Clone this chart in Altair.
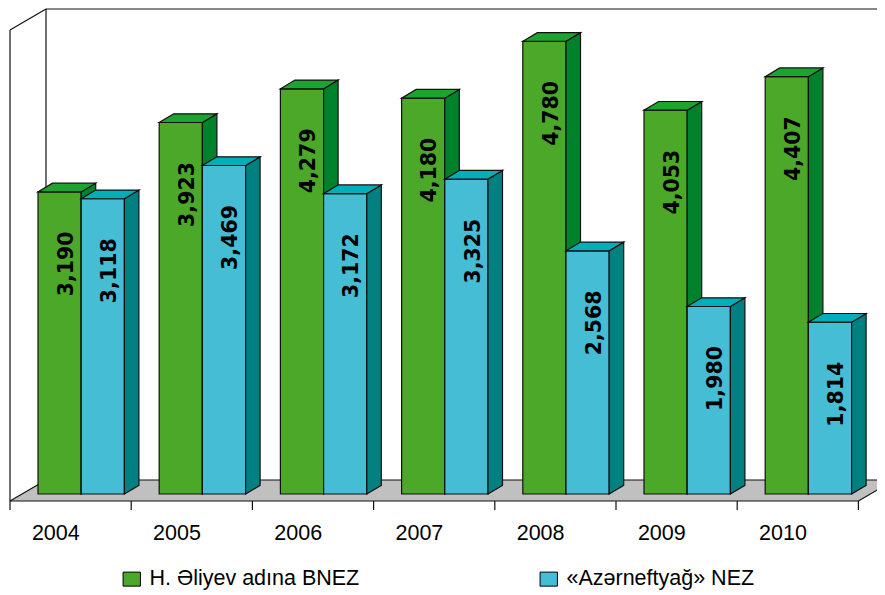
import altair as alt
import pandas as pd

# ---------------- data ----------------
years = ["2004", "2005", "2006", "2007", "2008", "2009", "2010"]
series = ["H. Əliyev adına BNEZ", "«Azərneftyağ» NEZ"]
bnez = [3190, 3923, 4279, 4180, 4780, 4053, 4407]
azneft = [3118, 3469, 3172, 3325, 2568, 1980, 1814]

# ---------------- style ----------------
front_colors = ["#4BA829", "#45BDD5"]
top_colors = ["#1CA332", "#00AFB8"]
side_colors = ["#00822D", "#008080"]
floor_color = "#C0C0C0"
edge = "#111111"

# ---------------- layout (pixels) ----------------
W, H = 869, 585
SLOT = 121.2          # px per category slot
PXY = 0.0947          # px per value unit
X0_PX = 2             # chart-x of first slot edge
Y0_PX = 486           # chart-y of zero baseline
BAR_OFF = 28.0        # px from slot edge to first bar
BAR_W = 43.2          # px bar width
DX, DY = 14.5, 8.7    # bar depth
FDX, FDY = 36.0, 21.0 # floor / wall depth
FLOOR_DROP = 7.0      # front floor edge below bar baseline
TICK_LEN = 9.0
LABEL_DROP = 72.0     # value label centre below bar top
YEAR_SHIFT = -14.8
YEAR_BASE = 46.0      # year label baseline below bar baseline
WALL_TOP = 1.0        # chart-y of back wall top

ux = lambda px: px / SLOT
uy = lambda px: px / PXY

x_dom = [-X0_PX / SLOT, (W - X0_PX) / SLOT]
y_dom = [-(H - Y0_PX) / PXY, Y0_PX / PXY]
xs = alt.Scale(domain=x_dom, nice=False, zero=False)
ys = alt.Scale(domain=y_dom, nice=False, zero=False)
X = lambda f: alt.X(f, type="quantitative", scale=xs, axis=None)
Y = lambda f: alt.Y(f, type="quantitative", scale=ys, axis=None)

n = len(years)
values = [bnez, azneft]

front, side, top, labels = [], [], [], []
for i, yr in enumerate(years):
    for s, name in enumerate(series):
        v = values[s][i]
        x0 = i + ux(BAR_OFF + s * BAR_W)
        x1 = x0 + ux(BAR_W)
        bid = f"{yr}-{s}"
        front.append(dict(series=name, s=s, x0=x0, x1=x1, y0=0, y1=v))
        side += [
            dict(bid=bid, s=s, x=x1, ya=0, yb=v),
            dict(bid=bid, s=s, x=x1 + ux(DX), ya=uy(DY), yb=v + uy(DY)),
        ]
        top += [
            dict(bid=bid, s=s, x=x0, ya=v, yb=v),
            dict(bid=bid, s=s, x=x0 + ux(DX), ya=v, yb=v + uy(DY)),
            dict(bid=bid, s=s, x=x1, ya=v, yb=v + uy(DY)),
            dict(bid=bid, s=s, x=x1 + ux(DX), ya=v + uy(DY), yb=v + uy(DY)),
        ]
        labels.append(dict(s=s, x=x0 + ux((BAR_W + DX) / 2), y=v - uy(LABEL_DROP),
                           txt=f"{v:,}"))

front_df = pd.DataFrame(front)
side_df = pd.DataFrame(side)
top_df = pd.DataFrame(top)
label_df = pd.DataFrame(labels)

ffy = -uy(FLOOR_DROP)
fby = ffy + uy(FDY)
wall_top = y_dom[1] - uy(WALL_TOP)
left_top = wall_top - uy(FDY)
fx = ux(FDX)

floor_df = pd.DataFrame([
    dict(x=0, ya=ffy, yb=ffy),
    dict(x=fx, ya=ffy, yb=fby),
    dict(x=n, ya=ffy, yb=fby),
    dict(x=n + fx, ya=fby, yb=fby),
])

segs = [
    (0, ffy, 0, left_top),
    (0, left_top, fx, wall_top),
    (fx, fby, fx, wall_top),
    (fx, wall_top, x_dom[1] + 1, wall_top),
    (0, ffy, n, ffy),
    (fx, fby, n + fx, fby),
    (0, ffy, fx, fby),
    (n, ffy, n + fx, fby),
]
segs += [(i, ffy, i, ffy - uy(TICK_LEN)) for i in range(n + 1)]
seg_df = pd.DataFrame(segs, columns=["x", "y", "x2", "y2"])

year_df = pd.DataFrame(dict(
    year=years,
    x=[i + 0.5 + ux(YEAR_SHIFT) for i in range(n)],
    y=[-uy(YEAR_BASE)] * n,
))

# ---------------- layers ----------------
floor = alt.Chart(floor_df).mark_area(color=floor_color).encode(
    x=X("x"), y=Y("ya"), y2="yb")

frame = alt.Chart(seg_df).mark_rule(color=edge, strokeWidth=1.2).encode(
    x=X("x"), y=Y("y"), x2="x2", y2="y2")

color = alt.Color(
    "series:N",
    scale=alt.Scale(domain=series, range=front_colors),
    legend=alt.Legend(
        title=None, orient="none", legendX=113, legendY=560,
        direction="horizontal", columns=2, columnPadding=178,
        symbolType="M-1,-0.81H1V0.81H-1Z", symbolSize=300,
        symbolStrokeColor="#000000", symbolStrokeWidth=1,
        labelFont="Liberation Sans", labelFontSize=21.5, labelColor="#000000",
        labelOffset=7, labelLimit=400, padding=0,
    ),
)

bar_layers = []
for s in range(2):
    f = alt.Chart(front_df).transform_filter(f"datum.s == {s}").mark_rect(
        stroke=edge, strokeWidth=1.2).encode(
        x=X("x0"), x2="x1", y=Y("y0"), y2="y1", color=color)
    sd = alt.Chart(side_df).transform_filter(f"datum.s == {s}").mark_area(
        color=side_colors[s], stroke=edge, strokeWidth=1.2).encode(
        x=X("x"), y=Y("ya"), y2="yb", detail="bid:N")
    tp = alt.Chart(top_df).transform_filter(f"datum.s == {s}").mark_area(
        color=top_colors[s], stroke=edge, strokeWidth=1.2).encode(
        x=X("x"), y=Y("ya"), y2="yb", detail="bid:N")
    bar_layers += [f, sd, tp]

vlabels = alt.Chart(label_df).mark_text(
    angle=270, align="center", baseline="middle", font="DejaVu Sans",
    fontWeight="bold", fontSize=20.5, color="#000000").encode(
    x=X("x"), y=Y("y"), text="txt:N")

ylabels = alt.Chart(year_df).mark_text(
    align="center", baseline="alphabetic", font="Liberation Sans",
    fontSize=21.5, color="#000000").encode(
    x=X("x"), y=Y("y"), text="year:N")

chart = alt.layer(floor, frame, *bar_layers, vlabels, ylabels).properties(
    width=W, height=H, padding=0,
    autosize=alt.AutoSizeParams(type="none"),
    background="white",
).configure_view(stroke=None)

chart.save("out.html", embed_options={"renderer": "svg", "actions": False})
